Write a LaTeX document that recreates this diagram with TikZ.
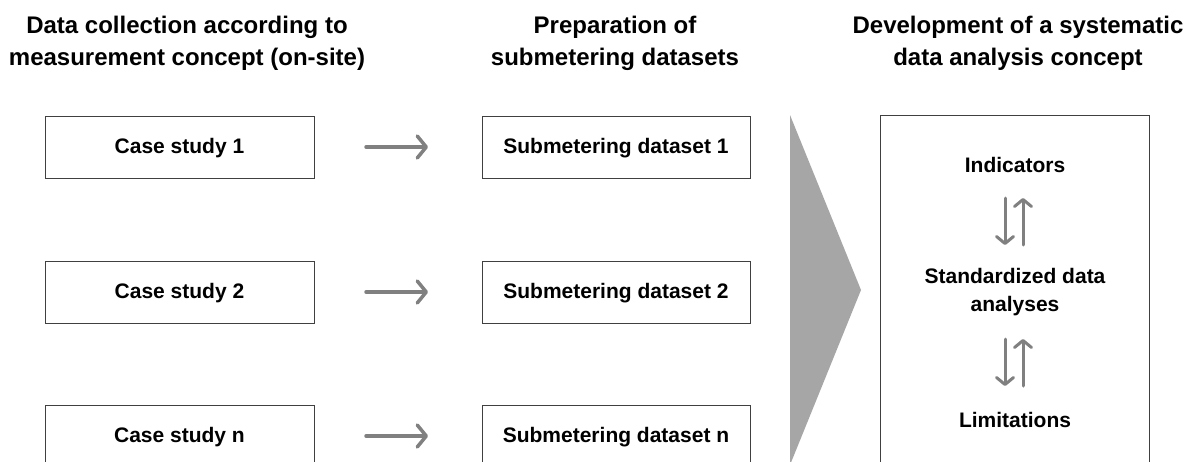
\documentclass[tikz,border=0pt]{standalone}
\usepackage{fontspec}
\setmainfont{Liberation Sans}
\usetikzlibrary{arrows.meta}
\begin{document}
\begin{tikzpicture}[x=1pt,y=-1pt,
  head/.style={font=\bfseries\fontsize{24}{32}\selectfont, align=center, text=black},
  boxtxt/.style={font=\bfseries\fontsize{21}{28}\selectfont, text=black},
  box/.style={draw=black!75, line width=0.9pt},
  flow/.style={draw=black!50, line width=3.5pt, line cap=round, -{Straight Barb[length=9pt,width=22pt,line width=3.5pt,round]}},
  rel/.style={draw=black!50, line width=3pt, line cap=round, -{Straight Barb[length=7pt,width=17pt,line width=3pt,round]}}]
\useasboundingbox (0,0) rectangle (1192,461);
\clip (0,0) rectangle (1192,461);
\fill[white] (0,0) rectangle (1192,461);
% headings
\node[head] (h1) at (187,43) {Data collection according to\\measurement concept (on-site)};
\node[head] (h2) at (615,43) {Preparation of\\submetering datasets};
\node[head] (h3) at (1018,43) {Development of a systematic\\data analysis concept};
% left boxes
\draw[box] (45,116) rectangle (314,178);
\node[boxtxt] (c1) at (179.5,148) {Case study 1};
\draw[box] (45,261) rectangle (314,323);
\node[boxtxt] (c2) at (179.5,293) {Case study 2};
\draw[box] (45,405) rectangle (314,467);
\node[boxtxt] (cn) at (179.5,437) {Case study n};
% middle boxes
\draw[box] (482,116) rectangle (750,178);
\node[boxtxt] (s1) at (616,148) {Submetering dataset 1};
\draw[box] (482,261) rectangle (750,323);
\node[boxtxt] (s2) at (616,293) {Submetering dataset 2};
\draw[box] (482,405) rectangle (750,467);
\node[boxtxt] (sn) at (616,437) {Submetering dataset n};
% arrows
\coordinate (a1s) at (366,147); \coordinate (a1e) at (428,147);
\coordinate (a2s) at (366,292); \coordinate (a2e) at (428,292);
\coordinate (a3s) at (366,436); \coordinate (a3e) at (428,436);
\draw[flow] (a1s) -- (a1e);
\draw[flow] (a2s) -- (a2e);
\draw[flow] (a3s) -- (a3e);
% big triangle
\fill[black!35] (790,115) -- (861,290) -- (790,465) -- cycle;
% right box
\draw[box] (880,115) rectangle (1149,470);
\node[boxtxt] (ind) at (1015,165) {Indicators};
\node[boxtxt, align=center] (std) at (1015,292) {Standardized data\\analyses};
\node[boxtxt] (lim) at (1015,420) {Limitations};
\coordinate (d1s) at (1005,198); \coordinate (d1e) at (1005,245);
\coordinate (u1s) at (1023,245); \coordinate (u1e) at (1023,198);
\coordinate (d2s) at (1005,339); \coordinate (d2e) at (1005,386);
\coordinate (u2s) at (1023,386); \coordinate (u2e) at (1023,339);
\draw[rel] (d1s) -- (d1e);
\draw[rel] (u1s) -- (u1e);
\draw[rel] (d2s) -- (d2e);
\draw[rel] (u2s) -- (u2e);
\end{tikzpicture}
\end{document}
